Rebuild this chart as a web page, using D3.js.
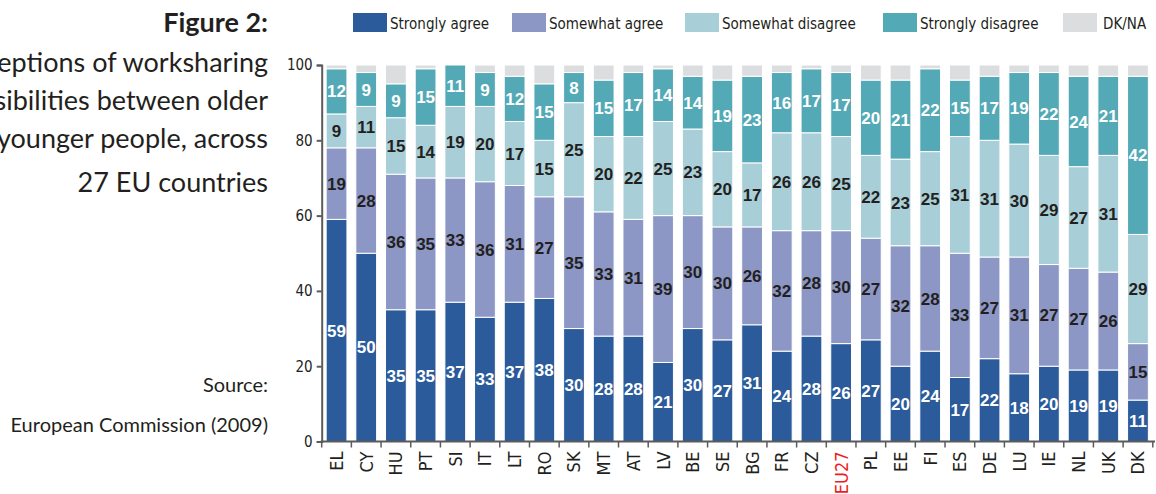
<!DOCTYPE html>
<html>
<head>
<meta charset="utf-8">
<script src="https://cdn.jsdelivr.net/npm/d3@7"></script>
<style>
  body { margin: 0; background: #fff; }
  svg { display: block; }
</style>
</head>
<body>
<script>
// chart data
const countries = ["EL","CY","HU","PT","SI","IT","LT","RO","SK","MT","AT","LV","BE","SE","BG","FR","CZ","EU27","PL","EE","FI","ES","DE","LU","IE","NL","UK","DK"];
const stronglyAgree    = [59,50,35,35,37,33,37,38,30,28,28,21,30,27,31,24,28,26,27,20,24,17,22,18,20,19,19,11];
const somewhatAgree    = [19,28,36,35,33,36,31,27,35,33,31,39,30,30,26,32,28,30,27,32,28,33,27,31,27,27,26,15];
const somewhatDisagree = [9,11,15,14,19,20,17,15,25,20,22,25,23,20,17,26,26,25,22,23,25,31,31,30,29,27,31,29];
const stronglyDisagree = [12,9,9,15,11,9,12,15,8,15,17,14,14,19,23,16,17,17,20,21,22,15,17,19,22,24,21,42];
const dkna             = [1,2,5,1,1,2,3,5,2,4,2,1,3,4,3,2,1,2,4,4,1,4,3,2,2,3,3,3];
const seriesNames = ["Strongly agree","Somewhat agree","Somewhat disagree","Strongly disagree","DK/NA"];
const yTicks = [0,20,40,60,80,100];

const W = 1156, H = 494;
const colors = ["#2b5b9b","#8c97c5","#a8ced7","#53a9b6","#dcdddf"];
const labelColors = ["#fff","#231f20","#231f20","#fff"];
const condensed = "'Liberation Sans Narrow','DejaVu Sans Condensed',sans-serif";

const svg = d3.select("body").append("svg").attr("width", W).attr("height", H);

// left title block (runs off the left edge, as on the original page)
const titleFont = "'Lato','Open Sans',sans-serif";
svg.append("text").attr("x", 268).attr("y", 32).attr("text-anchor","end")
   .attr("font-family", titleFont).attr("font-weight","bold").attr("font-size", 27)
   .attr("fill","#231f20").text("Figure 2:");
const titleLines = ["Perceptions of worksharing","possibilities between older","and younger people, across","27 EU countries"];
const titleY = [72, 110, 148, 192];
titleLines.forEach((t,i) => {
  svg.append("text").attr("x", 268).attr("y", titleY[i]).attr("text-anchor","end")
     .attr("font-family", titleFont).attr("font-size", 27).attr("fill","#231f20").text(t);
});
svg.append("text").attr("x", 268).attr("y", 392).attr("text-anchor","end")
   .attr("font-family", titleFont).attr("font-size", 20).attr("fill","#231f20").text("Source:");
svg.append("text").attr("x", 268).attr("y", 432).attr("text-anchor","end")
   .attr("font-family", titleFont).attr("font-size", 20).attr("fill","#231f20").text("European Commission (2009)");

// scales
const x = d3.scaleBand().domain(countries).range([321.7, 1152.8]).paddingInner(0.3).paddingOuter(0.15);
const y = d3.scaleLinear().domain([0,100]).range([441.5, 65]).clamp(true);

// stacked data
const rows = countries.map((c,i) => ({
  country: c,
  s0: stronglyAgree[i], s1: somewhatAgree[i], s2: somewhatDisagree[i], s3: stronglyDisagree[i], s4: dkna[i]
}));
const layers = d3.stack().keys(["s0","s1","s2","s3","s4"])(rows);

const g = svg.append("g");
layers.forEach((layer, k) => {
  g.selectAll(null).data(layer).enter().append("rect")
    .attr("x", d => x(d.data.country))
    .attr("width", x.bandwidth())
    .attr("y", d => y(d[1]))
    .attr("height", d => Math.max(0, y(d[0]) - y(d[1])))
    .attr("fill", colors[k])
    .attr("stroke", "#fff")
    .attr("stroke-width", 1);
});

// value labels
layers.slice(0,4).forEach((layer, k) => {
  g.selectAll(null).data(layer).enter().append("text")
    .attr("x", d => x(d.data.country) + x.bandwidth()/2)
    .attr("y", d => (y(d[0]) + y(d[1]))/2)
    .attr("dy", "0.36em")
    .attr("text-anchor","middle")
    .attr("font-family", "'Liberation Sans',Arial,sans-serif")
    .attr("font-weight","bold")
    .attr("font-size", 17)
    .attr("fill", labelColors[k])
    .text(d => d[1] - d[0]);
});

// y axis
const yAxis = svg.append("g").attr("transform", "translate(321.7,0)")
  .call(d3.axisLeft(y).tickValues(yTicks).tickSize(5).tickPadding(4));
yAxis.select(".domain").attr("stroke","#5b5b5b").attr("stroke-width",2);
yAxis.selectAll(".tick line").attr("stroke","#5b5b5b").attr("stroke-width",2);
yAxis.selectAll(".tick text").attr("font-family", condensed).attr("font-size", 15).attr("fill","#231f20");

// x axis: line plus boundary ticks between bars
const xAxis = svg.append("g").attr("transform", "translate(0,441.5)");
xAxis.append("line").attr("x1", 320.7).attr("x2", 1155).attr("y1", 0).attr("y2", 0)
  .attr("stroke","#5b5b5b").attr("stroke-width",2);
const step = x.step();
const edge = d => x(d) - x.paddingOuter() * step;
xAxis.selectAll(null).data(countries).enter().append("line")
  .attr("x1", edge).attr("x2", edge)
  .attr("y1", 0).attr("y2", 6)
  .attr("stroke","#5b5b5b").attr("stroke-width",1.5);
xAxis.append("line").attr("x1", 1152.8).attr("x2", 1152.8).attr("y1", 0).attr("y2", 6)
  .attr("stroke","#5b5b5b").attr("stroke-width",1.5);
xAxis.selectAll(null).data(countries).enter().append("text")
  .attr("transform", d => `translate(${x(d) + x.bandwidth()/2},10) rotate(-90)`)
  .attr("text-anchor","end")
  .attr("dy","0.36em")
  .attr("font-family", condensed)
  .attr("font-size", 18)
  .attr("fill", d => d === "EU27" ? "#ed1c24" : "#231f20")
  .text(d => d);

// legend
const legendX = [353, 512, 685, 883, 1063];
seriesNames.forEach((name, i) => {
  svg.append("rect").attr("x", legendX[i]).attr("y", 13).attr("width", 34).attr("height", 19)
     .attr("fill", colors[i]);
  svg.append("text").attr("x", legendX[i] + 37 + (i === 4 ? 3 : 0)).attr("y", 29)
     .attr("font-family", condensed).attr("font-size", 15).attr("fill","#231f20").text(name);
});
</script>
</body>
</html>
